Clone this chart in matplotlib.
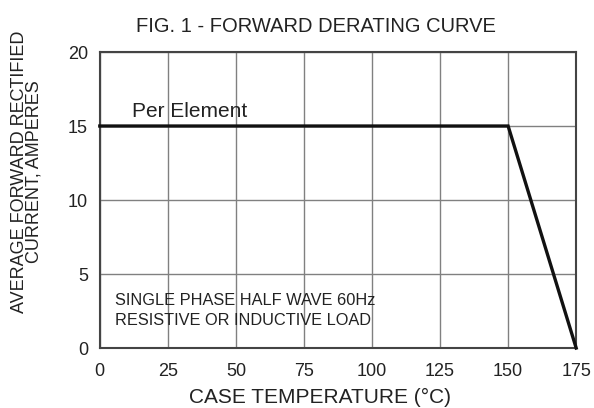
import matplotlib.pyplot as plt

plt.rcParams['font.family'] = ['Liberation Sans', 'DejaVu Sans']

case_temp = [0, 150, 175]
current = [15, 15, 0]
x_ticks = [0, 25, 50, 75, 100, 125, 150, 175]
y_ticks = [0, 5, 10, 15, 20]

text_color = '#222222'

fig = plt.figure(figsize=(5.94, 4.08), dpi=100)
ax = fig.add_axes([0.168, 0.147, 0.802, 0.7255])

ax.plot(case_temp, current, color='#111111', linewidth=2.4, solid_joinstyle='miter', zorder=3, clip_on=False)

ax.set_xlim(0, 175)
ax.set_ylim(0, 20)
ax.set_xticks(x_ticks)
ax.set_yticks(y_ticks)
ax.grid(True, color='#808080', linewidth=1.0)
ax.tick_params(length=0, labelsize=13, labelcolor=text_color)
ax.tick_params(axis='x', pad=10.5)
ax.tick_params(axis='y', pad=8.5)
for spine in ax.spines.values():
    spine.set_color('#444444')
    spine.set_linewidth(1.5)

ax.set_title('FIG. 1 - FORWARD DERATING CURVE', fontsize=14.5, color=text_color, pad=14.4, x=0.454)
ax.set_xlabel('CASE TEMPERATURE (°C)', fontsize=15, color=text_color, va='baseline')
ax.xaxis.set_label_coords(0.462, -0.186)
ax.set_ylabel('AVERAGE FORWARD RECTIFIED\nCURRENT, AMPERES', fontsize=13, color=text_color,
              va='center', linespacing=0.85)
ax.yaxis.set_label_coords(-0.153, 0.595)

ax.text(12, 15.6, 'Per Element', fontsize=15, color=text_color, va='baseline')
ax.text(5.5, 2.9, 'SINGLE PHASE HALF WAVE 60Hz', fontsize=11.8, color=text_color, va='baseline')
ax.text(5.5, 1.55, 'RESISTIVE OR INDUCTIVE LOAD', fontsize=11.8, color=text_color, va='baseline')

fig.savefig('out.png', dpi=100)
